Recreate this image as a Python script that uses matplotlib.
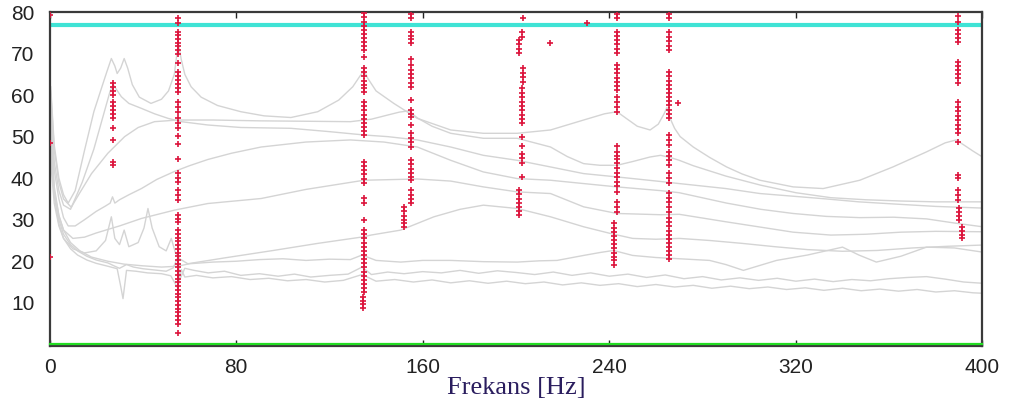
import matplotlib
matplotlib.use("Agg")
import matplotlib.pyplot as plt

# gray FRF-like curves (frequency in Hz, value)
c1_f = [0.5, 2, 4, 6, 8, 11, 15, 19, 22, 24.5, 26.5, 28, 29, 30.5, 32, 33.5, 35.5, 38.5, 43.5, 48,
        51, 53.5, 55.2, 56.5, 58, 60.7, 65, 72, 82, 92, 103.5, 115, 124, 130, 133, 134.8, 136.5, 140, 147.6, 157.7,
        172, 186, 200.5, 214.8, 229, 238, 243.3, 247, 252, 257.5, 261, 263.5, 264.7, 266, 268, 270.4, 276, 283, 290.3, 297,
        304.6, 318.8, 331.7, 347.4, 361.6, 375.9, 384, 388.7, 392, 396, 400]
c1_v = [62, 48, 40, 36, 34, 37, 46.7, 56, 61.2, 65.5, 68.8, 67, 65.2, 66.5, 68.8, 66.5, 62.5, 59.5, 58, 59,
        61, 65, 72.5, 68.5, 65, 62, 59.5, 57.5, 56, 55, 54.6, 56, 58.8, 62, 64.5, 66, 64, 61, 58, 54.4,
        51.6, 50.8, 50.8, 51.6, 54, 55.5, 56, 54.5, 52.5, 51.6, 53, 55.5, 57, 54.5, 52, 50, 47.5, 45, 42.7, 41,
        39.5, 37.9, 37.5, 39.5, 42.7, 46.3, 48.5, 49.2, 48, 46.5, 45.1]

c2_f = [0.5, 2, 4, 6, 9.3, 13, 18, 25, 32.2, 38, 45, 55, 70, 90, 110, 129, 138, 145, 150, 154,
        157.7, 164, 172, 186, 200.5, 214.8, 222, 229, 236, 243.3, 250, 257.5, 262, 266, 270, 276, 290, 305, 320, 335,
        350, 365, 380, 400]
c2_v = [61, 47, 39, 35, 33, 36.5, 41.1, 46, 50, 52.2, 53.6, 54, 54, 53.8, 53.7, 53.6, 54.2, 55.2, 55.9, 56.2,
        54.5, 52.5, 50.8, 49.6, 49.6, 47.5, 45.2, 43.5, 43.1, 43.1, 44, 45.1, 45.5, 45, 44.3, 43, 40.5, 38.3, 36.5, 35.3,
        34.8, 34.5, 34.3, 34.3]

c3_f = [0.5, 2, 4, 6, 9, 14, 19, 23, 26, 27.3, 28.5, 30.8, 34, 39.4, 45, 50.8, 56.5, 67.9, 82, 103.5,
        120, 134.8, 145, 157.7, 172, 186, 200.5, 214.8, 229, 243.3, 262, 270, 290, 304.6, 320, 333, 347, 361.6, 380, 400]
c3_v = [58, 44, 37, 33.5, 32.5, 39, 47, 55, 61, 62.5, 61.5, 59.6, 58, 56.8, 55.5, 54.4, 53.6, 52.8, 52.2, 52,
        51.2, 50.4, 50, 49.2, 47.5, 45.5, 44.3, 42.7, 41.1, 40.3, 39.2, 38.7, 37.5, 36.3, 35.6, 35, 34.3, 33.8, 33.2, 32.8]

c4_f = [0.5, 2, 4, 6, 8, 11, 15, 20, 24, 26, 27, 28, 30, 34, 39.4, 46, 53.5, 60, 67.9, 78,
        90.7, 110, 129, 143.3, 157.7, 172, 186, 200.5, 214.8, 229, 243.3, 262, 270, 290.3, 305, 318.8, 333, 347.4, 362, 376,
        388, 400]
c4_v = [57, 42, 35, 30.5, 28.5, 28.5, 30, 32, 33.3, 34, 35.5, 34, 34.8, 36, 37.5, 39.7, 41.6, 43, 44.5, 46,
        47.5, 48.7, 49.2, 48.7, 47.5, 44.3, 41.5, 39.9, 39.5, 38.7, 37.9, 37, 36.5, 34, 32.5, 31.5, 30.8, 30.5, 30.6, 30.2,
        29.2, 28.3]

c5_f = [0.5, 2, 4, 6, 10, 15, 20, 30, 39.4, 53.5, 67.9, 90.7, 110, 134.8, 157.7, 172, 186, 200.5, 214.8, 229,
        243.3, 262, 270, 290, 305, 318.8, 335, 350, 365, 380, 400]
c5_v = [55, 38, 31, 27.5, 25.5, 25.8, 26.8, 28.5, 30.3, 32.3, 33.9, 35.1, 37.3, 39.5, 39.8, 39.3, 37.9, 36.7, 36.3, 33.1,
        31.5, 31.2, 31.3, 29.5, 28.2, 27, 26.3, 26.5, 27, 27.2, 27.1]

c6_f = [0.5, 2, 4, 6, 10, 15, 20, 24, 26.5, 28, 30, 32, 34, 38, 40.5, 42.2, 44, 47, 50, 52.2,
        54, 56, 59.3, 75, 96, 115, 134.8, 137.8, 150.6, 164.8, 176, 186, 200.5, 214.8, 229, 240.4, 250, 260, 270, 283,
        297, 311, 325, 340, 355, 370, 385, 400]
c6_v = [52, 36, 29, 25.5, 23, 22, 22.5, 25, 30.7, 25.5, 24, 27.5, 23.5, 24.5, 28, 32.7, 28, 23.5, 22.5, 25.5,
        22, 20.5, 19.4, 20.8, 22.6, 24.3, 25.9, 26.3, 27.5, 30.7, 32.5, 33.5, 32.7, 30.7, 28.3, 26.7, 25.5, 25.3, 25.5, 25,
        24.3, 23.5, 22.8, 22.4, 22.6, 23.2, 23.6, 23.9]

c7_f = [0.5, 2, 4, 6, 9, 13, 18, 25, 32, 40, 48, 55, 60, 70, 80, 90, 100, 110, 120, 129,
        134, 140, 150.6, 160, 172, 186, 200.5, 210, 217.6, 229, 236, 241.8, 250, 260, 270, 283, 290, 297.5, 304, 311.7,
        325, 340, 347, 354.5, 365, 376, 388, 400]
c7_v = [50, 37, 31, 27.5, 24.5, 22.5, 21, 20, 19.3, 18.9, 18.6, 18.8, 19.4, 19.8, 20, 20.4, 20.6, 20.2, 20.5, 20.4,
        21.5, 20.2, 19.8, 20.2, 20.2, 19.9, 19.8, 20.1, 20.2, 21.4, 22.1, 22.6, 21.4, 20.9, 20.6, 20.2, 19.2, 17.8, 18.9, 20.2,
        21.5, 23.4, 21.5, 19.8, 21.2, 23.4, 23.2, 22.2]

c8_f = [0.5, 2, 4, 6, 9, 12, 16, 20, 25, 28, 30, 33, 36, 40, 45, 50, 53, 55, 56, 58,
        62, 68, 75, 82, 90, 98, 105, 112, 120, 128, 134, 138, 145, 152, 160, 168, 176, 184, 192, 200,
        208, 216, 224, 232, 240, 248, 256, 264, 272, 280, 288, 296, 304, 312, 320, 328, 336, 344, 352, 360,
        368, 376, 384, 392, 400]
c8_v = [46, 36, 30, 26.5, 24, 22.5, 21.2, 20.3, 19.6, 18.8, 18.3, 19.2, 18.6, 18.2, 17.9, 17.6, 18.4, 21, 15.8, 18.3,
        17.8, 17.2, 17.6, 16.6, 17, 16.4, 16.9, 16.2, 16.6, 16.9, 18.6, 16.8, 17.4, 17, 17.5, 17.2, 17.8, 17.1, 17.7, 17.3,
        16.8, 17.4, 16.6, 17.2, 16.4, 16.9, 16.1, 16.7, 15.8, 16.3, 15.5, 16, 15.4, 15.9, 15.2, 15.7, 15.1, 15.6, 15.3, 15.8,
        16.1, 16.3, 15.7, 15, 14.7]

c9_f = [0.5, 2, 4, 6, 9, 12, 16, 20, 25, 29, 30.5, 31.5, 33, 37, 42, 48, 52, 55, 56.5, 58,
        63, 70, 78, 86, 94, 102, 110, 118, 126, 134, 140, 148, 156, 164, 172, 180, 188, 196, 204, 212,
        220, 228, 236, 244, 252, 260, 268, 276, 284, 292, 300, 308, 316, 324, 332, 340, 348, 356, 364, 372,
        380, 388, 396, 400]
c9_v = [44, 34, 28.5, 25.5, 23, 21.5, 20.3, 19.5, 18.8, 18.2, 14, 11, 17.8, 17.6, 17.2, 17, 16.5, 13.5, 18, 16.2,
        16.6, 16, 16.3, 15.6, 15.9, 15.3, 15.6, 15, 15.4, 16.8, 15.2, 15.6, 15, 15.5, 14.8, 15.3, 14.7, 15.2, 14.6, 15,
        14.3, 14.8, 14.2, 14.6, 13.9, 14.4, 13.8, 14.2, 13.5, 14, 13.4, 13.8, 13.2, 13.6, 13, 13.5, 12.9, 13.3, 12.8, 13.2,
        12.6, 12.9, 12.4, 12.3]

# stable poles (red markers): one frequency per column, values in the column
m0_v = [79.3, 48.4, 21.0]
m27_v = [62.8, 61.9, 61.0, 60.1, 58.4, 57.4, 56.4, 55.4, 54.4, 52.0, 49.2, 43.9, 43.1]
m55_v = [78.5, 77.4, 75.3, 74.4, 73.5, 72.6, 71.7, 70.8, 69.9, 67.7, 65.6, 64.6, 63.6, 62.6, 61.6, 60.7,
         58.3, 57.1, 55.9, 54.5, 53.2, 52.0, 50.1, 48.2, 44.6, 41.2, 40.1, 39.0, 37.1, 35.9, 34.7, 31.1, 30.2, 29.4,
         27.5, 26.6, 25.7, 24.8, 23.9, 23.0, 22.1, 21.2, 20.3, 19.4, 18.5, 17.6, 16.7, 15.8, 14.9, 14.0, 13.1,
         12.2, 11.3, 10.4, 9.5, 8.6, 7.7, 6.8, 5.9, 5.0, 2.8]
m135_v = [79.7, 78.7, 77.7, 76.7, 75.7, 74.7, 73.7, 72.7, 71.7, 70.8, 69.2, 66.5, 65.5, 64.5, 63.5, 62.5, 61.6,
          60.7, 58.3, 57.3, 56.3, 55.3, 54.3, 53.3, 52.3, 51.3, 50.3, 43.9, 42.9, 41.9, 40.9, 39.9, 38.8, 35.2, 34.0,
          29.9, 27.5, 26.5, 25.5, 24.5, 23.5, 22.5, 21.5, 20.5, 19.5, 18.5, 17.5, 16.5, 15.5, 14.5, 13.5, 12.5]
m134_v = [11.5, 10.5, 9.6, 8.7]
m155_v = [79.5, 78.5, 75.2, 74.3, 73.4, 72.5, 68.8, 67.3, 66.0, 65.0, 64.0, 63.0, 62.0, 58.8, 56.4, 55.5, 54.7,
          52.8, 50.8, 49.7, 48.6, 47.5, 44.3, 43.3, 42.3, 41.3, 40.3, 39.5, 37.1, 36.0, 35.0, 34.0]
m152_v = [33.0, 32.0, 31.0, 30.0, 29.1, 28.2]
m203_v = [78.5, 66.5, 65.4, 64.3, 63.1]
m202_v = [75.2, 74.1, 61.7, 60.6, 59.5, 58.4, 57.3, 56.3, 55.2, 54.2, 53.2, 49.9, 47.7, 45.9, 44.8, 43.7, 40.2]
m201_v = [73.2, 72.2, 71.2, 70.1, 37.1, 36.1, 35.1, 34.1, 33.1, 32.1, 31.1]
m215_v = [72.5]
m230_v = [77.3]
m243_v = [79.5, 78.5, 75.2, 74.2, 73.2, 72.2, 71.2, 70.1, 67.2, 66.2, 65.2, 64.2, 63.2, 62.2, 61.2, 59.5, 58.3,
          57.1, 55.9, 47.7, 46.3, 45.4, 44.5, 43.6, 42.4, 41.3, 40.2, 39.1, 38.0, 36.6, 34.2, 33.0, 31.8]
m242_v = [29.1, 28.1, 27.1, 26.1, 25.1, 24.1, 23.1, 22.1, 21.1, 20.2, 19.0]
m266_v = [79.5, 78.5, 75.2, 74.1, 73.0, 71.9, 70.8, 65.5, 64.5, 63.5, 62.5, 61.5, 60.5, 59.5, 58.5, 57.5, 56.5,
          55.5, 54.5, 50.4, 49.2, 48.0, 46.3, 45.3, 44.3, 43.2, 41.2, 40.0, 38.8, 36.4, 35.3, 34.2, 33.0, 31.8,
          30.4, 29.4, 28.4, 27.4, 26.4, 25.4, 24.4, 23.4, 22.4, 21.4, 20.6]
m269_v = [58.2]
m389_v = [79.0, 77.5, 75.7, 74.7, 73.7, 72.8, 68.0, 67.0, 66.0, 65.0, 64.0, 62.9, 58.3, 57.2, 56.1, 55.0, 54.0,
          52.8, 51.8, 50.8, 48.7, 40.7, 40.1, 37.1, 36.0, 34.7]
m390_v = [32.8, 31.8, 30.8, 29.9]
m391_v = [28.2, 27.3, 26.4, 25.5]

curves = [(c1_f, c1_v), (c2_f, c2_v), (c3_f, c3_v), (c4_f, c4_v), (c5_f, c5_v),
          (c6_f, c6_v), (c7_f, c7_v), (c8_f, c8_v), (c9_f, c9_v)]
poles = [(0.4, m0_v), (27.0, m27_v), (55.0, m55_v), (134.9, m135_v), (134.3, m134_v),
         (154.9, m155_v), (152.0, m152_v), (203.2, m203_v), (202.4, m202_v), (201.2, m201_v),
         (214.5, m215_v), (230.4, m230_v), (243.3, m243_v), (242.1, m242_v), (265.7, m266_v),
         (269.4, m269_v), (389.4, m389_v), (390.1, m390_v), (391.1, m391_v)]

fig = plt.figure(figsize=(10.09, 4.07), dpi=100)
ax = fig.add_axes([0.0491, 0.1499, 0.9246, 0.8206])

for f, v in curves:
    ax.plot(f, v, color='#d4d4d4', lw=1.0, zorder=1)

for f0, vals in poles:
    ax.plot([f0] * len(vals), vals, ls='none', marker='+', ms=4.5, mew=1.2,
            color='#dc143c', zorder=3)

ax.axhline(76.8, color='#3fe3d5', lw=3, zorder=2)
ax.axhline(0, color='#22dd22', lw=1.6, zorder=4, clip_on=False)

ax.set_xlim(0, 400)
ax.set_ylim(-0.4, 80)
ax.set_xticks([0, 80, 160, 240, 320, 400])
ax.set_yticks([10, 20, 30, 40, 50, 60, 70, 80])
ax.tick_params(axis='x', direction='in', length=4, width=1, top=True, pad=9,
               labelsize=15, colors='#222222')
ax.tick_params(axis='y', length=0, pad=11, labelsize=15, colors='#222222')
for lab in ax.get_xticklabels() + ax.get_yticklabels():
    lab.set_family('Liberation Sans')

for side in ['top', 'right', 'left', 'bottom']:
    ax.spines[side].set_color('#3a3a3a')
    ax.spines[side].set_linewidth(1.6)

ax.set_xlabel('Frekans [Hz]', family='Liberation Serif', fontsize=19,
              color='#2a1d5e', labelpad=0)

fig.savefig('out.png', dpi=100)
